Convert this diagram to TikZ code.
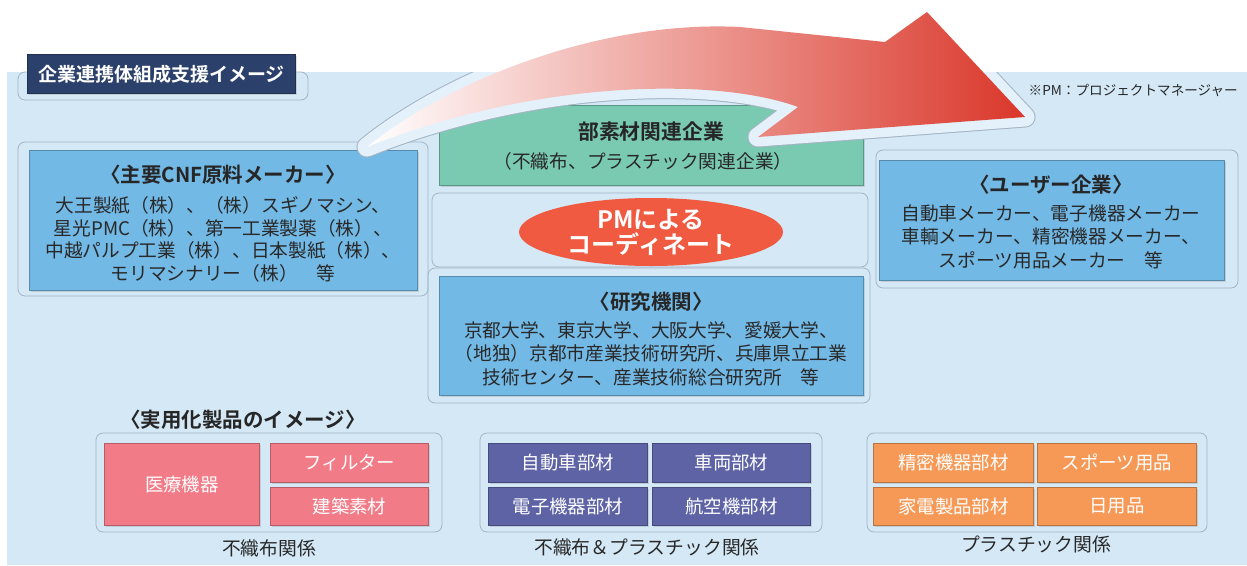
\documentclass[tikz,border=0pt]{standalone}
\usepackage{fontspec}
\setmainfont{Noto Sans CJK JP}[BoldFont={Noto Sans CJK JP Bold}]
\usetikzlibrary{shapes.geometric,shadows}
\definecolor{panel}{RGB}{212,232,246}
\definecolor{navy}{RGB}{43,64,106}
\definecolor{cnfblue}{RGB}{115,185,230}
\definecolor{partgreen}{RGB}{122,202,178}
\definecolor{pmred}{RGB}{239,90,64}
\definecolor{pinkc}{RGB}{242,123,136}
\definecolor{purplec}{RGB}{93,99,165}
\definecolor{orangec}{RGB}{247,153,86}
\definecolor{outl}{RGB}{165,180,195}
\definecolor{txt}{RGB}{40,40,40}
\definecolor{arrowmid}{RGB}{236,155,130}
\definecolor{arrowend}{RGB}{218,55,42}
\def\arrowpath{(367,147) .. controls (450,80) and (600,20) .. (740,27) -- (885,42) -- (927,12) -- (1025,117) -- (758,137) -- (798,107) .. controls (720,78) and (540,78) .. (367,147) -- cycle}
\begin{document}
\begin{tikzpicture}[x=1pt,y=-1pt,
  outline/.style={draw=outl, line width=0.8pt, rounded corners=7pt},
  bigbox/.style={draw=#1!75!black, fill=#1, line width=0.8pt, inner sep=0pt, anchor=north west,
     drop shadow={opacity=0.25, shadow xshift=2pt, shadow yshift=-2pt}},
  pbox/.style={draw=#1!75!black, fill=#1, line width=0.8pt, inner sep=0pt, anchor=north west,
     text=white, font=\fontsize{18.4}{22}\selectfont,
     drop shadow={opacity=0.25, shadow xshift=2pt, shadow yshift=-2pt}},
  headtext/.style={font=\fontsize{20.5}{24}\selectfont\bfseries, text=black!85, inner sep=0pt},
  bodytext/.style={font=\fontsize{18.7}{#1}\selectfont, text=txt, align=center, inner sep=0pt},
  grouplabel/.style={font=\fontsize{18.8}{22}\selectfont, text=txt, inner sep=0pt}
]
\useasboundingbox (0,0) rectangle (1247,565);
\fill[white] (0,0) rectangle (1247,565);
\fill[panel] (7,72) rectangle (1247,565);

% faint outlines
\draw[outline] (18,72) rectangle (308,100);
\draw[outline] (18,142) rectangle (428,296);
\draw[outline] (432,193) rectangle (868,267);
\draw[outline] (428,268) rectangle (870,403);
\draw[outline] (876,150) rectangle (1238,288);
\draw[outline] (96,433) rectangle (442,532);
\draw[outline] (480,433) rectangle (822,532);
\draw[outline] (867,433) rectangle (1207,532);

% title
\node[bigbox=navy, minimum width=268, minimum height=39] (title) at (27,54) {};
\node[font=\fontsize{19}{23}\selectfont\bfseries, text=white, inner sep=0pt] (titletxt) at (title.center) {企業連携体組成支援イメージ};

% main boxes
\node[bigbox=cnfblue, minimum width=388, minimum height=140] (cnf) at (29,150) {};
\node[bigbox=partgreen, minimum width=424, minimum height=80] (green) at (439,105) {};
\node[bigbox=cnfblue, minimum width=424, minimum height=119] (res) at (439,276) {};
\node[bigbox=cnfblue, minimum width=345, minimum height=120] (user) at (879,160) {};

% arrow halo and arrow
\begin{scope}
  \clip (7,72) rectangle (1247,565);
  \draw[outl, line width=21pt, line join=round] \arrowpath;
  \draw[panel!60!white, line width=19pt, line join=round] \arrowpath;
\end{scope}
\shade[left color=white, middle color=arrowmid, right color=arrowend] \arrowpath;

% PM ellipse
\node[ellipse, fill=pmred, minimum width=264, minimum height=68, inner sep=0pt,
      text=white, align=center, font=\fontsize{24}{25}\selectfont\bfseries] (pm) at (651,232) {PMによる\\コーディネート};

% texts in boxes
\node[headtext] (cnfhead) at (223,175) {〈主要CNF原料メーカー〉};
\node[bodytext=22.7] (cnfbody) at (223,239.5) {大王製紙（株）、（株）スギノマシン、\\星光PMC（株）、第一工業製薬（株）、\\中越パルプ工業（株）、日本製紙（株）、\\モリマシナリー（株）\quad 等};

\node[font=\fontsize{20.8}{24}\selectfont\bfseries, text=black!85, inner sep=0pt] (greenhead) at (651,132) {部素材関連企業};
\node[bodytext=22] (greenbody) at (643,161) {（不織布、プラスチック関連企業）};

\node[headtext] (reshead) at (651,302) {〈研究機関〉};
\node[bodytext=23.5] (resbody) at (651,353.5) {京都大学、東京大学、大阪大学、愛媛大学、\\（地独）京都市産業技術研究所、兵庫県立工業\\技術センター、産業技術総合研究所\quad 等};

\node[headtext] (userhead) at (1051,185) {〈ユーザー企業〉};
\node[bodytext=23.5] (userbody) at (1051,236.5) {自動車メーカー、電子機器メーカー\\車輌メーカー、精密機器メーカー、\\スポーツ用品メーカー\quad 等};

\node[font=\fontsize{13.6}{16}\selectfont, text=txt, inner sep=0pt, anchor=east] (note) at (1238,90) {※PM：プロジェクトマネージャー};

% products
\node[headtext] (prodhead) at (243,420) {〈実用化製品のイメージ〉};

\node[pbox=pinkc, minimum width=155, minimum height=82] (p1) at (104,443) {医療機器};
\node[pbox=pinkc, minimum width=158, minimum height=39] (p2) at (270,443) {フィルター};
\node[pbox=pinkc, minimum width=158, minimum height=38] (p3) at (270,487) {建築素材};
\node[grouplabel] (g1) at (269,548) {不織布関係};

\node[pbox=purplec, minimum width=159, minimum height=39] (q1) at (488,443) {自動車部材};
\node[pbox=purplec, minimum width=158, minimum height=39] (q2) at (652,443) {車両部材};
\node[pbox=purplec, minimum width=159, minimum height=38] (q3) at (488,487) {電子機器部材};
\node[pbox=purplec, minimum width=158, minimum height=38] (q4) at (652,487) {航空機部材};
\node[grouplabel] (g2) at (647,547) {不織布＆プラスチック関係};

\node[pbox=orangec, minimum width=160, minimum height=39] (r1) at (873,443) {精密機器部材};
\node[pbox=orangec, minimum width=159, minimum height=39] (r2) at (1037,443) {スポーツ用品};
\node[pbox=orangec, minimum width=160, minimum height=38] (r3) at (873,487) {家電製品部材};
\node[pbox=orangec, minimum width=159, minimum height=38] (r4) at (1037,487) {日用品};
\node[grouplabel] (g3) at (1036,544) {プラスチック関係};
\end{tikzpicture}
\end{document}
